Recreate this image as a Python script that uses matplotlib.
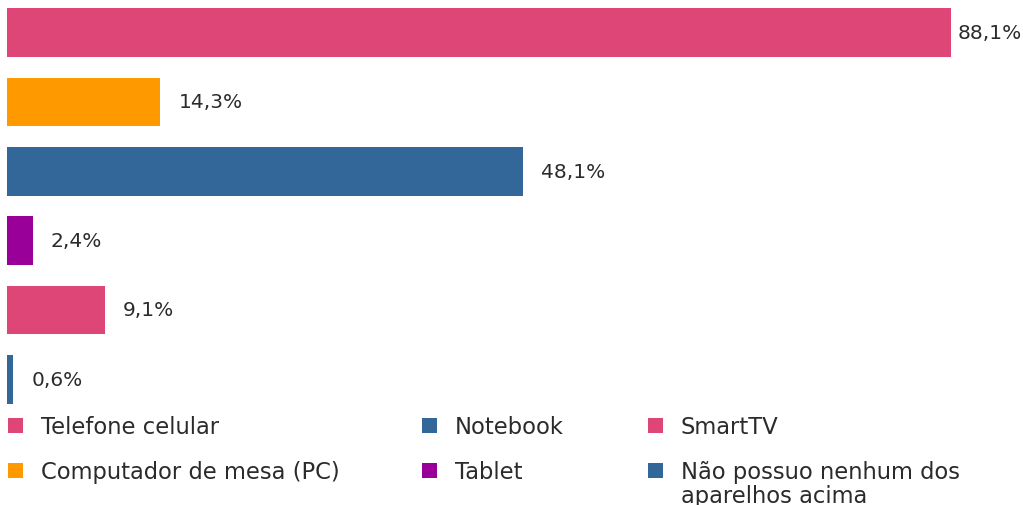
import matplotlib.pyplot as plt
from matplotlib.patches import Rectangle

# data
categories = ['Telefone celular', 'Computador de mesa (PC)', 'Notebook', 'Tablet',
              'SmartTV', 'Não possuo nenhum dos\naparelhos acima']
values = [88.1, 14.3, 48.1, 2.4, 9.1, 0.6]
colors = ['#DE4678', '#FF9900', '#336699', '#990099', '#DE4678', '#336699']

plt.rcParams['font.family'] = ['DejaVu Sans']
text_color = '#2b2b2b'
W, H = 1023, 506

fig = plt.figure(figsize=(W / 100, H / 100), dpi=100)
ax = fig.add_axes([7 / W, 91 / H, 1016 / W, 414 / H])

pos = list(range(len(values)))
ax.barh(pos, values, height=0.7, color=colors)
xmax = 94.8
for y, v in zip(pos, values):
    # keep the longest label inside the figure
    ax.text(min(v + 1.7, 88.7), y, f"{v:.1f}%".replace('.', ','), va='center',
            ha='left', fontsize=14.5, color=text_color)

ax.set_xlim(0, xmax)
ax.set_ylim(5.5, -0.47)
ax.axis('off')

# legend drawn by hand: 3 columns, filled column-wise, box aligned to first line
col_x = [8, 422, 648]
row_base = [434, 479]
line_step = 24
for i, (lab, c) in enumerate(zip(categories, colors)):
    x = col_x[i // 2]
    yb = row_base[i % 2]
    fig.patches.append(Rectangle((x / W, 1 - yb / H), 15 / W, 15 / H,
                                 transform=fig.transFigure, facecolor=c,
                                 edgecolor='none'))
    for k, line in enumerate(lab.split('\n')):
        fig.text((x + 33) / W, 1 - (yb + k * line_step) / H, line, va='baseline',
                 ha='left', fontsize=16.3, color=text_color)

fig.savefig('out.png', dpi=100)
